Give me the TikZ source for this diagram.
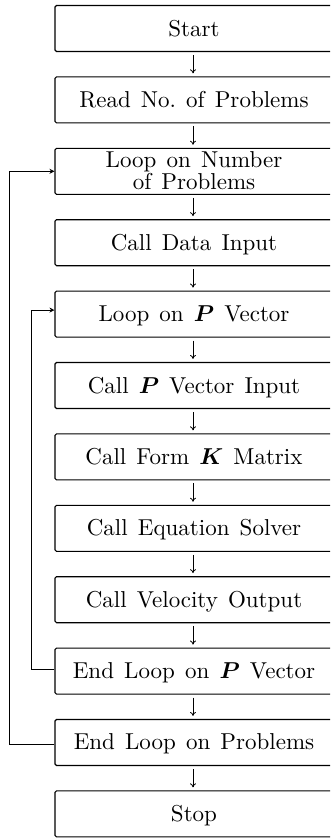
\documentclass[tikz,border=0pt]{standalone}
\usepackage{amsmath}
\usepackage{graphicx}
\usetikzlibrary{arrows.meta}
\newcommand\boxtext[1]{\scalebox{2.3}{\fontsize{10}{9.1}\selectfont\spaceskip=4.4pt plus 1pt minus 1pt\raisebox{-1.1pt}[\height][\depth]{\begin{tabular}{@{}c@{}}#1\end{tabular}}}}
\begin{document}
\begin{tikzpicture}[x=1pt,y=-1pt,
  box/.style={draw, line width=1.1pt, rounded corners=1.5pt, minimum width=278pt, minimum height=46pt,
    inner sep=0pt},
  flow/.style={line width=0.8pt, -{To[length=4pt,width=6pt]}, shorten >=3pt, shorten <=3pt},
  back/.style={line width=0.8pt, -{Stealth[length=5pt,width=5pt]}}]
\useasboundingbox (0,0) rectangle (330,839);
\clip (0,0) rectangle (330,839);
\node[box] (start) at (194,28.5) {\boxtext{Start}};
\node[box] (read)  at (194,99.9) {\boxtext{Read No.\ of Problems}};
\node[box] (loopN) at (194,171.3) {\boxtext{Loop on Number\\of Problems}};
\node[box] (data)  at (194,242.7) {\boxtext{Call Data Input}};
\node[box] (loopP) at (194,314.1) {\boxtext{Loop on $\boldsymbol{P}$ Vector}};
\node[box] (pin)   at (194,385.5) {\boxtext{Call $\boldsymbol{P}$ Vector Input}};
\node[box] (formK) at (194,456.9) {\boxtext{Call Form $\boldsymbol{K}$ Matrix}};
\node[box] (solve) at (194,528.3) {\boxtext{Call Equation Solver}};
\node[box] (velo)  at (194,599.7) {\boxtext{Call Velocity Output}};
\node[box] (endP)  at (194,671.1) {\boxtext{End Loop on $\boldsymbol{P}$ Vector}};
\node[box] (endN)  at (194,742.5) {\boxtext{End Loop on Problems}};
\node[box] (stop)  at (194,813.9) {\boxtext{Stop}};
\foreach \a/\b in {start/read,read/loopN,loopN/data,data/loopP,loopP/pin,pin/formK,formK/solve,solve/velo,velo/endP,endP/endN,endN/stop}
  \draw[flow] ([xshift=-1pt]\a.south) -- ([xshift=-1pt]\b.north);
\draw[back] ([yshift=2pt]endP.west) -- ++(-23,0) |- ([yshift=4pt]loopP.west);
\draw[back] ([yshift=-2pt]endN.west) -- ++(-45,0) |- ([yshift=0pt]loopN.west);
\end{tikzpicture}
\end{document}
